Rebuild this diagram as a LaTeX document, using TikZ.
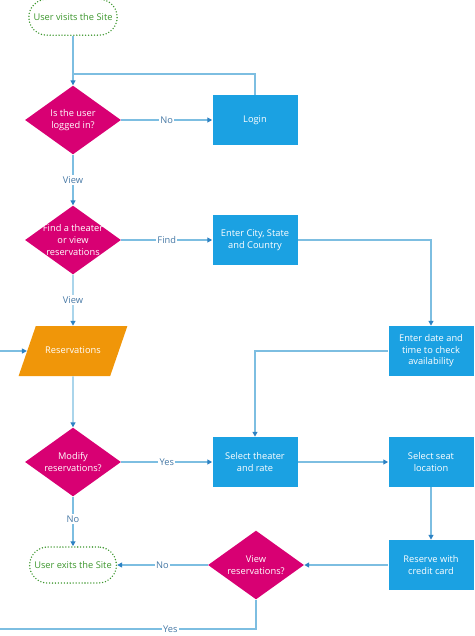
\documentclass[tikz,border=0pt]{standalone}
\usepackage{fontspec}
\setmainfont{Open Sans}
\usetikzlibrary{shapes.geometric,arrows.meta}

\definecolor{flowmag}{RGB}{216,0,115}
\definecolor{flowblue}{RGB}{27,161,226}
\definecolor{floworange}{RGB}{240,150,9}
\definecolor{flowgreen}{RGB}{60,150,45}
\definecolor{flowline}{RGB}{125,190,225}
\definecolor{flowtip}{RGB}{45,130,195}
\definecolor{flowlabel}{RGB}{70,120,165}

\tikzset{
	txt/.style = {font=\fontsize{6.6}{8.2}\selectfont, align=center},
	term/.style = {txt, draw=flowgreen, dash pattern=on 0pt off 2.1pt, line cap=round, line width=1.1pt, text=flowgreen, rounded corners=0.45cm, minimum width=2.15cm, minimum height=0.9cm},
	proc/.style = {txt, fill=flowblue, text=white, minimum width=2.125cm, minimum height=1.25cm, inner sep=0pt},
	dec/.style = {diamond, fill=flowmag, minimum width=2.4cm, minimum height=1.72cm, inner sep=0pt},
	declab/.style = {txt, text=white},
	io/.style = {txt, trapezium, trapezium left angle=71, trapezium right angle=109, trapezium stretches body, fill=floworange, text=white, minimum width=2.72cm, inner xsep=2pt, text height=1.6mm, text depth=0.5mm, inner ysep=5.2mm},
	line/.style = {draw=flowline, line width=0.85pt},
	arr/.style = {line, -{Triangle[length=3.5pt,width=3.5pt,color=flowtip,fill=flowtip]}},
	cond/.style = {txt, text=flowlabel, fill=white, inner sep=1pt}
}

\begin{document}
\begin{tikzpicture}
		\useasboundingbox (0,0) rectangle (11.85,-15.9);
		\clip (0,0) rectangle (11.85,-15.9);
		
		\node[term] (start) at (1.825,-0.43) {User visits the Site};
		\node[dec, label={[declab]center:Is the user\\logged in?}] (logged) at (1.825,-3.0) {};
		\node[proc] (login) at (6.375,-3.0) {Login};
		\node[dec, label={[declab]center:Find a theater\\or view\\reservations}] (find) at (1.825,-6.0) {};
		\node[proc] (city) at (6.375,-6.0) {Enter City, State\\and Country};
		\node[proc] (date) at (10.775,-8.775) {Enter date and\\time to check\\availability};
		\node[io] (resv) at (1.825,-8.775) {Reservations};
		\node[dec, label={[declab]center:Modify\\reservations?}] (modify) at (1.825,-11.55) {};
		\node[proc] (theater) at (6.375,-11.55) {Select theater\\and rate};
		\node[proc] (seat) at (10.775,-11.55) {Select seat\\location};
		\node[term] (exit) at (1.825,-14.125) {User exits the Site};
		\node[dec, label={[declab]center:View\\reservations?}] (viewq) at (6.4,-14.125) {};
		\node[proc] (card) at (10.775,-14.125) {Reserve with\\credit card};
		
		\coordinate (join) at (1.825,-1.85);
		\coordinate (loopbot) at (-0.3,-15.725);
		
		\draw[arr] (start) -- (logged);
		\draw[line] (login.north) |- (join);
		\draw[arr] (logged) -- node[cond] {No} (login);
		\draw[arr] (logged) -- node[cond] {View} (find);
		\draw[arr] (find) -- node[cond] {Find} (city);
		\draw[arr] (find) -- node[cond] {View} (resv);
		\draw[arr] (city.east) -| (date.north);
		\draw[arr] (date.west) -| (theater.north);
		\draw[arr] (resv) -- (modify);
		\draw[arr] (modify) -- node[cond] {Yes} (theater);
		\draw[arr] (modify) -- node[cond,pos=0.45] {No} (exit);
		\draw[arr] (theater) -- (seat);
		\draw[arr] (seat) -- (card);
		\draw[arr] (card) -- (viewq);
		\draw[arr] (viewq) -- node[cond] {No} (exit);
		\draw[arr] (viewq.south) |- node[cond,pos=0.66] {Yes} (loopbot) |- (resv.west);
\end{tikzpicture}
\end{document}
